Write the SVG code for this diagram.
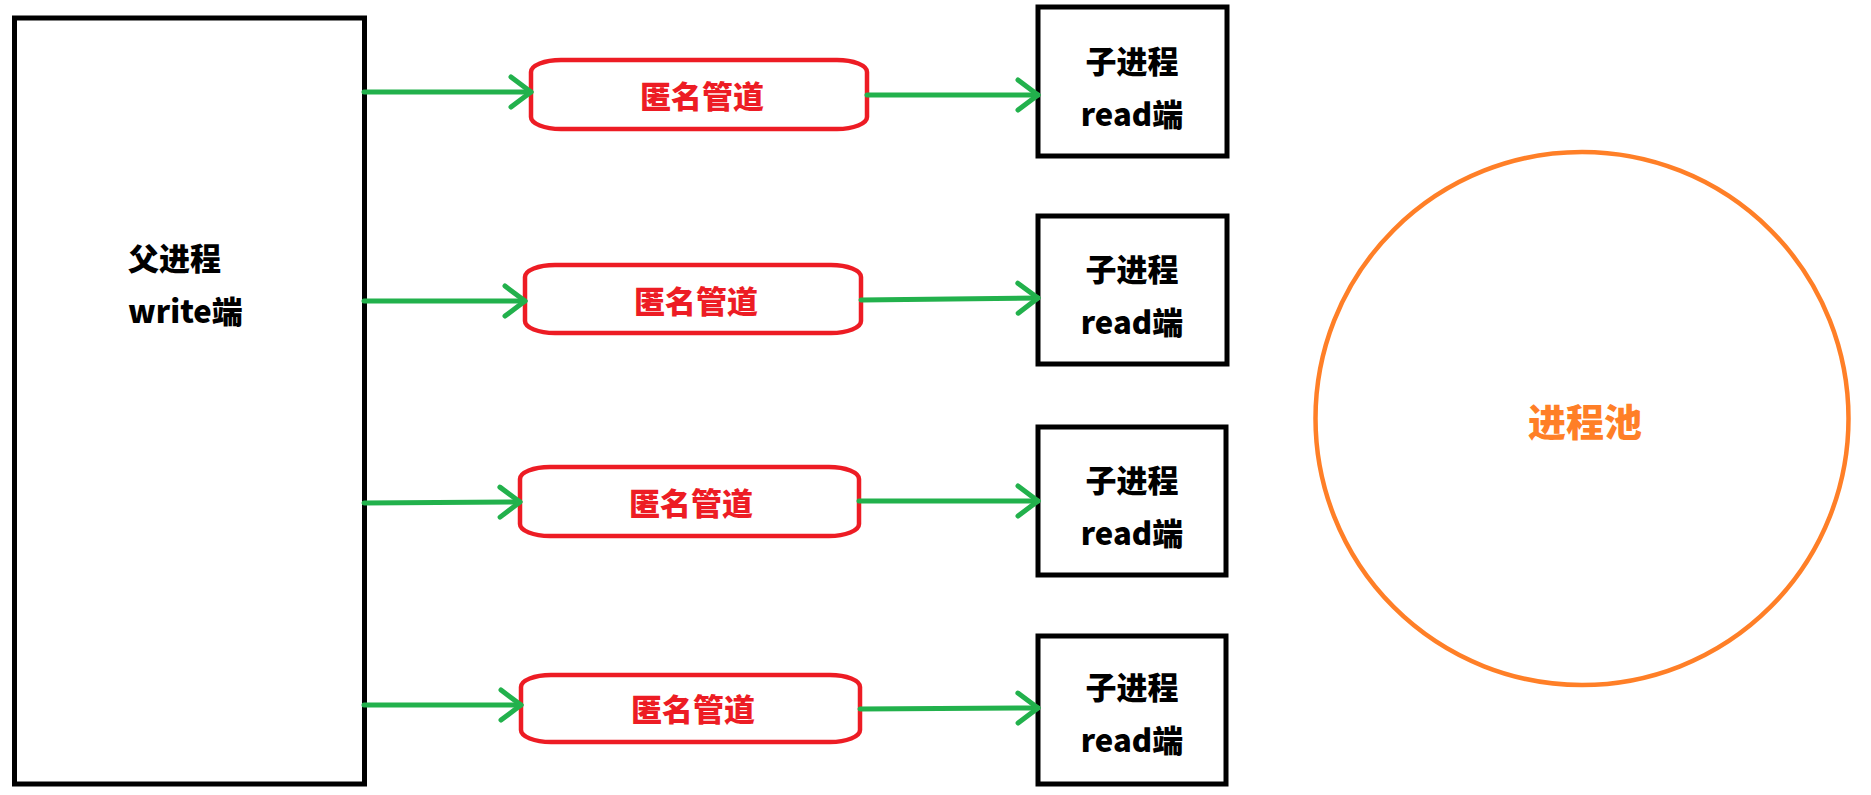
<svg xmlns="http://www.w3.org/2000/svg" width="1871" height="795" viewBox="0 0 1871 795">
<style>
.box{fill:#fff;stroke:#000;stroke-width:5}
.pipe{fill:#fff;stroke:#ED1C24;stroke-width:4.5}
.pool{fill:#fff;stroke:#FF7F27;stroke-width:4.5}
.t{font-family:"Noto Sans CJK SC","Microsoft YaHei",sans-serif;font-weight:900;font-size:31px;fill:#000}
.tp{font-family:"Noto Sans CJK SC","Microsoft YaHei",sans-serif;font-weight:900;font-size:31px;fill:#ED1C24;text-anchor:middle}
.tc{text-anchor:middle}
.tpool{font-family:"Noto Sans CJK SC","Microsoft YaHei",sans-serif;font-weight:900;font-size:38px;fill:#FF7F27;text-anchor:middle}
.c{stroke:#22B14C;stroke-width:5;stroke-linecap:round;fill:none;marker-end:url(#arr)}
</style>
<defs>
<marker id="arr" viewBox="-24 -18 28 36" refX="0" refY="0" markerWidth="28" markerHeight="36" markerUnits="userSpaceOnUse" orient="auto">
<path d="M-20,-15 L0,0 L-20,15" fill="none" stroke="#22B14C" stroke-width="5" stroke-linecap="round" stroke-linejoin="round"/>
</marker>
</defs>
<rect width="1871" height="795" fill="#fff"/>
<g id="parent">
<rect class="box" x="14.5" y="18" width="350" height="766"/>
<text class="t" x="128" y="270">父进程</text>
<text class="t" x="128" y="323">write端</text>
</g>
<g id="pipe1">
<rect class="pipe" x="531" y="60" width="336" height="69" rx="30" ry="12"/>
<text class="tp" x="702" y="108">匿名管道</text>
</g>
<g id="pipe2">
<rect class="pipe" x="525" y="265" width="336" height="68" rx="30" ry="12"/>
<text class="tp" x="696" y="313">匿名管道</text>
</g>
<g id="pipe3">
<rect class="pipe" x="520" y="467" width="339" height="69" rx="30" ry="12"/>
<text class="tp" x="691" y="515">匿名管道</text>
</g>
<g id="pipe4">
<rect class="pipe" x="521" y="675" width="339" height="67" rx="30" ry="12"/>
<text class="tp" x="693" y="721">匿名管道</text>
</g>
<g id="child1">
<rect class="box" x="1038" y="7" width="189" height="149"/>
<text class="t tc" x="1132" y="73">子进程</text>
<text class="t tc" x="1132" y="126">read端</text>
</g>
<g id="child2">
<rect class="box" x="1038" y="216" width="189" height="148"/>
<text class="t tc" x="1132" y="281">子进程</text>
<text class="t tc" x="1132" y="334">read端</text>
</g>
<g id="child3">
<rect class="box" x="1038" y="427" width="188" height="148"/>
<text class="t tc" x="1132" y="492">子进程</text>
<text class="t tc" x="1132" y="545">read端</text>
</g>
<g id="child4">
<rect class="box" x="1038" y="636" width="188" height="148"/>
<text class="t tc" x="1132" y="699">子进程</text>
<text class="t tc" x="1132" y="752">read端</text>
</g>
<g id="pool">
<circle class="pool" cx="1582" cy="418.5" r="266.5"/>
<text class="tpool" x="1585" y="436">进程池</text>
</g>
<g id="connectors">
<line class="c" x1="364" y1="92" x2="531" y2="92"/>
<line class="c" x1="364" y1="301" x2="525" y2="301"/>
<line class="c" x1="364" y1="503" x2="520" y2="502"/>
<line class="c" x1="364" y1="705" x2="521" y2="705"/>
<line class="c" x1="867" y1="95" x2="1038" y2="95"/>
<line class="c" x1="861" y1="300" x2="1038" y2="298"/>
<line class="c" x1="859" y1="501" x2="1038" y2="501"/>
<line class="c" x1="860" y1="709" x2="1038" y2="708"/>
</g>
</svg>
